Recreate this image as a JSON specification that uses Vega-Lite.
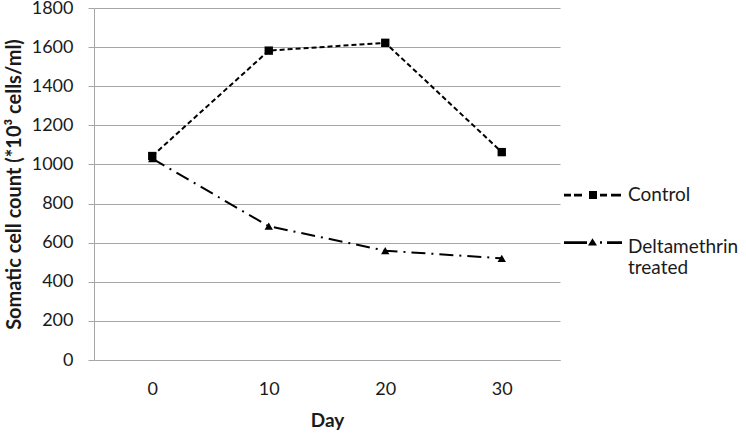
{
  "$schema": "https://vega.github.io/schema/vega-lite/v6.json",
  "width": 466,
  "height": 352,
  "autosize": {"type": "none"},
  "padding": {"left": 94, "top": 8, "right": 186, "bottom": 73},
  "background": "white",
  "data": {
    "values": [
      {"day": "0", "series": "Control", "count": 1043},
      {"day": "10", "series": "Control", "count": 1582},
      {"day": "20", "series": "Control", "count": 1622},
      {"day": "30", "series": "Control", "count": 1063},
      {"day": "0", "series": "Deltamethrin treated", "count": 1030},
      {"day": "10", "series": "Deltamethrin treated", "count": 684},
      {"day": "20", "series": "Deltamethrin treated", "count": 559},
      {"day": "30", "series": "Deltamethrin treated", "count": 520}
    ]
  },
  "config": {
    "font": "Lato",
    "view": {"stroke": null},
    "axis": {"labelFont": "Lato", "titleFont": "Lato", "labelColor": "#1a1a1a", "titleColor": "#1a1a1a"}
  },
  "encoding": {
    "x": {
      "field": "day", "type": "ordinal", "sort": ["0", "10", "20", "30"],
      "scale": {"type": "point", "padding": 0.5},
      "axis": {"title": "Day", "labelAngle": 0, "labelFontSize": 18, "titleFontSize": 19, "titleFontWeight": "bold", "ticks": false, "labelPadding": 20, "titlePadding": 13, "domainColor": "#a6a6a6", "domainWidth": 1}
    },
    "y": {
      "field": "count", "type": "quantitative",
      "scale": {"domain": [0, 1800], "nice": false},
      "axis": {"title": "Somatic cell count (*10³ cells/ml)", "format": "d", "values": [0, 200, 400, 600, 800, 1000, 1200, 1400, 1600, 1800], "labelFontSize": 18, "titleFontSize": 20, "titleFontWeight": "bold", "tickSize": 6, "tickColor": "#a6a6a6", "domainColor": "#a6a6a6", "gridColor": "#a6a6a6", "gridWidth": 1, "labelPadding": 15, "titlePadding": 7}
    }
  },
  "layer": [
    {
      "transform": [{"filter": "datum.series == 'Control'"}],
      "mark": {"type": "line", "color": "black", "strokeWidth": 2, "strokeDash": [5, 3]}
    },
    {
      "transform": [{"filter": "datum.series == 'Deltamethrin treated'"}],
      "mark": {"type": "line", "color": "black", "strokeWidth": 2, "strokeDash": [14, 6, 2, 6]}
    },
    {
      "mark": {"type": "point", "filled": true, "color": "black", "opacity": 0},
      "encoding": {
        "shape": {
          "field": "series", "type": "nominal",
          "scale": {
            "domain": ["Control", "Deltamethrin treated"],
            "range": [
              "M-0.92,-0.055H-0.64V0.055H-0.92Z M-0.52,-0.055H-0.2V0.055H-0.52Z M0.08,-0.16H0.4V0.16H0.08Z M0.52,-0.055H0.8V0.055H0.52Z M0.96,-0.055H1.36V0.055H0.96Z",
              "M-0.92,-0.235H0V-0.125H-0.92Z M0.04,-0.06L0.22,-0.35L0.4,-0.06Z M0.52,-0.23H0.6V-0.13H0.52Z M0.8,-0.235H1.4V-0.125H0.8Z"
            ]
          },
          "legend": {
            "title": null,
            "orient": "none",
            "legendX": 468,
            "legendY": 162,
            "padding": 0,
            "symbolSize": 2500,
            "symbolFillColor": "black",
            "symbolStrokeColor": "black",
            "symbolStrokeWidth": 0,
            "symbolOpacity": 1,
            "labelFontSize": 19,
            "labelFont": "Lato",
            "labelColor": "#1a1a1a",
            "labelOffset": 16,
            "labelLimit": 200,
            "rowPadding": 17,
            "labelBaseline": "middle",
            "labelExpr": "datum.label == 'Deltamethrin treated' ? ['Deltamethrin', 'treated'] : datum.label"
          }
        }
      }
    },
    {
      "transform": [{"filter": "datum.series == 'Control'"}],
      "mark": {"type": "point", "filled": true, "color": "black", "opacity": 1, "shape": "square", "size": 70}
    },
    {
      "transform": [{"filter": "datum.series == 'Deltamethrin treated'"}],
      "mark": {"type": "point", "filled": true, "color": "black", "opacity": 1, "shape": "triangle-up", "size": 70}
    }
  ]
}
